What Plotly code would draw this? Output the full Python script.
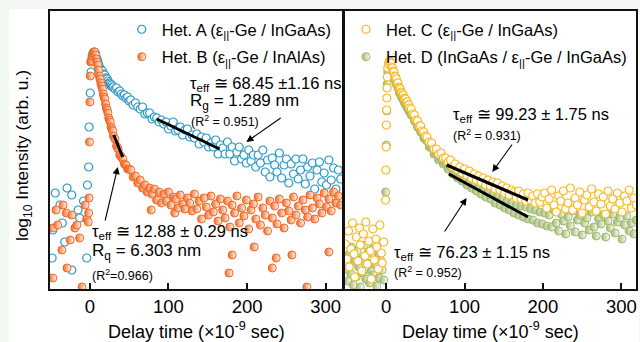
import plotly.graph_objects as go

# ---------------- data (log10 intensity in arbitrary units, time in ns) ----------------
GRID_T = [2, 3, 4, 5, 6, 7, 8, 9, 10, 11, 12, 13, 14, 15, 16, 17, 18, 19, 20, 21, 22, 23, 24, 25, 26, 27, 28, 29, 30,
          32, 34, 36, 38, 40, 42, 44, 46, 48, 50,
          52, 55, 58, 61, 64, 67, 70, 73, 76, 79, 82, 85, 88, 91, 94, 97, 100, 103, 106, 109,
          112, 115, 118, 121, 124, 127, 130, 133, 136, 139, 142, 145, 148, 151, 154, 157, 160, 163, 166, 169,
          172, 175, 178, 181, 184, 187, 190, 193, 196, 199, 202, 205, 208, 211, 214, 217, 220, 223, 226, 229,
          232, 235, 238, 241, 244, 247, 250, 253, 256, 259, 262, 265, 268, 271, 274, 277, 280, 283, 286, 289,
          292, 295, 298, 301, 304, 307, 310, 313, 316, 319]

A_DECAY = [229, 233, 236, 236, 237, 236, 232, 230, 228, 225, 222, 221, 219, 218, 218, 215, 214, 214, 211, 211,
           210, 208, 206, 206, 205, 203, 204, 202, 202,
           200, 201, 197, 198, 195, 193, 194, 191, 192, 188,
           189, 184, 186, 182, 180, 182, 175, 176, 176, 170,
           172, 171, 167, 169, 165, 167, 160, 163, 167, 158,
           159, 162, 154, 159, 160, 152, 154, 151, 155, 145,
           152, 147, 151, 142, 146, 142, 149, 135, 144, 141,
           135, 147, 135, 142, 128, 137, 142, 130, 134, 126,
           139, 128, 134, 122, 134, 126, 139, 117, 129, 112,
           131, 124, 117, 136, 111, 124, 130, 106, 125, 115,
           130, 110, 119, 130, 105, 122, 113, 126, 100, 119,
           127, 107, 116, 104, 129, 109, 121, 100, 119, 110]
A_PRE_T = [-48, -47, -44, -38, -35, -32, -29, -23, -23, -15, -13, -8, -4, -3, -1.5, -1.0, 0.5, 1.5]
A_PRE_V = [31, 59, 96, 84, 66, 47, 101, 94, 19, 79, 71, 88, 31, 104, 122, 162, 196, 217]

B_DECAY = [228, 233, 235, 237, 237, 234, 230, 227, 224, 219, 213, 210, 206, 203, 200, 195, 192, 190, 185, 181,
           179, 176, 171, 169, 167, 162, 160, 158, 153,
           150, 143, 140, 134, 132, 130, 125, 124, 120, 120,
           119, 112, 113, 106, 109, 101, 104, 97, 101, 95,
           100, 89, 97, 86, 95, 88, 97, 84, 92, 90,
           81, 94, 85, 80, 91, 86, 78, 95, 80, 88,
           70, 91, 82, 74, 93, 77, 85, 68, 90, 79,
           71, 88, 62, 84, 76, 93, 66, 81, 73, 89,
           60, 79, 85, 70, 92, 64, 81, 74, 58, 88,
           71, 83, 65, 90, 76, 61, 86, 78, 69, 92,
           74, 83, 66, 89, 79, 72, 94, 81, 70, 91,
           85, 76, 96, 82, 90, 78, 97, 86, 93, 84]
B_PRE_T = [-47, -47, -43, -41, -35.5, -34, -30, -29, -25, -23, -19, -16.5, -13, -10, -6, -4,
           -2.0, -1.5, -1.0, -0.5, 0.0, 0.5, 1.0,
           78, 108, 177, 181, 209, 232, 237, 257, 276, 304]
B_PRE_V = [61, 11, 79, 64, 39, 84, 76, 21, 49, 74, 61, 64, 51, 2, 84, 70,
           67, 76, 91, 147, 187, 213, 227,
           79, 76, 16, 34, 42, 21, 31, 34, 2, 37]

C_DECAY = [221, 225, 228, 227, 226, 222, 221, 218, 217, 213, 212, 210, 206, 206, 202, 201, 200, 197, 196, 194,
           194, 191, 190, 190, 187, 187, 184, 184, 181,
           180, 175, 174, 169, 168, 163, 163, 158, 157, 153,
           152, 147, 146, 140, 140, 135, 136, 131, 131, 127,
           129, 122, 125, 119, 122, 116, 120, 114, 118, 111,
           115, 109, 113, 107, 111, 104, 109, 103, 107, 100,
           106, 99, 103, 96, 101, 94, 99, 97, 91, 98,
           90, 95, 88, 96, 89, 93, 86, 95, 87, 92,
           96, 81, 90, 99, 84, 77, 93, 88, 98, 80,
           86, 101, 79, 91, 84, 97, 76, 89, 94, 82,
           100, 87, 78, 95, 85, 92, 75, 98, 83, 90,
           80, 96, 86, 77, 93, 88, 99, 81, 91, 84]
C_PRE_T = [-52, -50, -48, -47, -45, -43, -41, -40, -38, -36, -34, -33, -31, -29, -27, -26, -24, -22, -20,
           -19, -17, -15, -13, -12, -10, -8, -6, -5, -3,
           -0.8, -0.4, 0.0, 0.3, 0.6, 0.9, 1.2, 1.5]
C_PRE_V = [45, 30, 58, 22, 40, 66, 35, 12, 52, 28, 61, 44, 18, 55, 33, 67, 25, 48, 38,
           10, 60, 29, 50, 42, 20, 64, 36, 26, 47,
           89, 119, 142, 164, 179, 191, 201, 212]

D_DECAY = [217, 222, 225, 224, 223, 219, 218, 215, 214, 210, 209, 205, 205, 201, 200, 196, 196, 193, 192, 190,
           190, 187, 186, 184, 185, 181, 181, 178, 178,
           174, 173, 168, 167, 162, 161, 157, 156, 151, 150,
           148, 142, 141, 135, 135, 129, 130, 125, 126, 120,
           122, 115, 118, 111, 114, 108, 112, 104, 108, 101,
           106, 98, 103, 95, 100, 92, 97, 90, 95, 86,
           93, 84, 91, 81, 88, 79, 87, 76, 84, 74,
           83, 72, 82, 70, 80, 69, 79, 66, 77, 65,
           76, 63, 74, 62, 79, 66, 58, 75, 68, 55,
           72, 63, 78, 57, 69, 74, 54, 66, 71, 59,
           77, 62, 53, 70, 65, 74, 52, 68, 61, 75,
           56, 67, 71, 50, 64, 73, 58, 66, 55, 69]
D_PRE_T = [-51, -49, -47, -45, -44, -42, -40, -38, -37, -35, -33, -31, -30, -28, -26, -24, -23, -21, -19,
           -17, -16, -14, -12, -10, -9, -7, -5, -3,
           -0.6, 0.3, 0.8, 1.3]
D_PRE_V = [20, 8, 35, 15, 42, 4, 28, 12, 38, 22, 2, 30, 16, 44, 10, 26, 36, 6, 18,
           40, 14, 24, 3, 33, 11, 29, 19, 9,
           97, 144, 178, 205]

FIT_A_T, FIT_A_V = [85, 165], [170, 140]
FIT_B_T, FIT_B_V = [30.4, 41.8], [154, 132]
FIT_C_T, FIT_C_V = [77, 181], [124, 89]
FIT_D_T, FIT_D_V = [80, 181], [115, 72]

NAMES = ["Het. A (ε<sub>||</sub>-Ge / InGaAs)", "Het. B (ε<sub>||</sub>-Ge / InAlAs)",
         "Het. C (ε<sub>||</sub>-Ge / InGaAs)", "Het. D (InGaAs / ε<sub>||</sub>-Ge / InGaAs)"]
X_TICKS = [0, 100, 200, 300]

# ---------------- styles ----------------
FONT = "Liberation Sans, Arial, sans-serif"
BLUE, ORANGE, YELLOW, GREEN = "#2a98c8", "#f26722", "#f9b81b", "#9fb86c"
W, H = 640, 342
ML, MR, MT, MB = 50, 2, 11, 53
PW, PH = W - ML - MR, H - MT - MB


def px_x(px):
    return (px - ML) / PW


def px_y(py):
    return (H - MB - py) / PH


fig = go.Figure()


def open_marker(color):
    return dict(symbol="circle", size=8, color="white", line=dict(color=color, width=1.2))


def half_marker(color, light):
    return dict(symbol="circle", size=8, color=color, gradient=dict(type="horizontal", color=light),
                line=dict(color=color, width=1))


fig.add_trace(go.Scatter(x=A_PRE_T + GRID_T, y=A_PRE_V + A_DECAY, mode="markers", name=NAMES[0],
                         marker=open_marker(BLUE), xaxis="x", yaxis="y", legend="legend",
                         legendgroup="A"))
fig.add_trace(go.Scatter(x=B_PRE_T + GRID_T, y=B_PRE_V + B_DECAY, mode="markers", name=NAMES[1],
                         marker=half_marker(ORANGE, "white"), xaxis="x", yaxis="y", legend="legend",
                         legendgroup="B"))
fig.add_trace(go.Scatter(x=D_PRE_T + GRID_T, y=D_PRE_V + D_DECAY, mode="markers", name=NAMES[3],
                         marker=half_marker(GREEN, "white"), xaxis="x2", yaxis="y2", legend="legend2",
                         legendrank=2, legendgroup="D"))
fig.add_trace(go.Scatter(x=C_PRE_T + GRID_T, y=C_PRE_V + C_DECAY, mode="markers", name=NAMES[2],
                         marker=open_marker(YELLOW), xaxis="x2", yaxis="y2", legend="legend2",
                         legendrank=1, legendgroup="C"))

for t, v, ax in [(FIT_A_T, FIT_A_V, 1), (FIT_B_T, FIT_B_V, 1), (FIT_C_T, FIT_C_V, 2), (FIT_D_T, FIT_D_V, 2)]:
    fig.add_trace(go.Scatter(x=t, y=v, mode="lines", line=dict(color="black", width=3), showlegend=False,
                             xaxis="x" if ax == 1 else "x2", yaxis="y" if ax == 1 else "y2"))

axis_common = dict(showgrid=False, zeroline=False, showline=True, linecolor="#111", linewidth=1.6,
                   mirror=True)
xcommon = dict(axis_common, tickmode="array", tickvals=X_TICKS, ticks="inside", ticklen=6, tickwidth=1.5,
               tickcolor="#111", tickfont=dict(size=18.5, color="black", family=FONT))
ycommon = dict(axis_common, showticklabels=False, ticks="", range=[0, 278])

ann = []


def text_ann(text, px, py, size, xanchor="left", angle=0):
    ann.append(dict(text=text, xref="paper", yref="paper", x=px_x(px), y=px_y(py), xanchor=xanchor,
                    yanchor="middle", showarrow=False, textangle=angle,
                    font=dict(size=size, color="black", family=FONT)))


def arrow(xh, yh, xt, yt, panel):
    xr, yr = ("x", "y") if panel == 1 else ("x2", "y2")
    ann.append(dict(text="", x=xh, y=yh, ax=xt, ay=yt, xref=xr, yref=yr, axref=xr, ayref=yr,
                    showarrow=True, arrowhead=2, arrowsize=1.3, arrowwidth=1.1, arrowcolor="black",
                    standoff=0, startstandoff=0))


text_ann("τ<sub>eff</sub> ≅ 68.45 ±1.16 ns", 188, 84, 16.5)
text_ann("R<sub>g</sub> = 1.289 nm", 188, 102, 17)
text_ann("(R<sup>2</sup> = 0.951)", 189, 121, 12.5)
text_ann("τ<sub>eff</sub> ≅ 12.88 ± 0.29 ns", 90, 232, 16.5)
text_ann("R<sub>q</sub> = 6.303 nm", 90, 252, 17)
text_ann("(R<sup>2</sup>=0.966)", 90, 275, 12.5)
text_ann("τ<sub>eff</sub> ≅ 99.23 ± 1.75 ns", 452, 115, 16.5)
text_ann("(R<sup>2</sup> = 0.931)", 452, 135, 12.5)
text_ann("τ<sub>eff</sub> ≅ 76.23 ± 1.15 ns", 393, 253, 16.5)
text_ann("(R<sup>2</sup> = 0.952)", 393, 272, 12.5)
text_ann("Delay time (×10<sup>-9</sup> sec)", 196.5, 330, 18, xanchor="center")
text_ann("Delay time (×10<sup>-9</sup> sec)", 492, 330, 18, xanchor="center")
text_ann("log<sub>10</sub> Intensity (arb. u.)", 23, 156, 17.3, xanchor="center", angle=-90)

arrow(199, 147, 244.6, 172, 1)
arrow(35.5, 122, 19, 67, 1)
arrow(135.4, 117, 162, 146, 2)
arrow(102.6, 91, 73.3, 56, 2)

legend_common = dict(xanchor="left", yanchor="top", bgcolor="rgba(0,0,0,0)", itemwidth=30,
                     font=dict(size=16.5, color="black", family=FONT), tracegroupgap=3)

fig.update_layout(
    width=W, height=H, margin=dict(l=ML, r=MR, t=MT, b=MB),
    paper_bgcolor="#f4f8f2", plot_bgcolor="white",
    font=dict(family=FONT, color="black"),
    xaxis=dict(xcommon, domain=[0, px_x(343)], range=[-50.7, 320.7]),
    xaxis2=dict(xcommon, domain=[px_x(346), 1], range=[-52.5, 318.7]),
    yaxis=dict(ycommon, anchor="x"),
    yaxis2=dict(ycommon, anchor="x2"),
    legend=dict(legend_common, x=px_x(122), y=px_y(12)),
    legend2=dict(legend_common, x=px_x(347), y=px_y(12)),
    annotations=ann,
    shapes=[dict(type="rect", xref="paper", yref="paper", x0=px_x(9), x1=px_x(641), y0=px_y(343),
                 y1=px_y(9), fillcolor="white", line=dict(width=0), layer="below")],
)

fig.write_html("out.html")
